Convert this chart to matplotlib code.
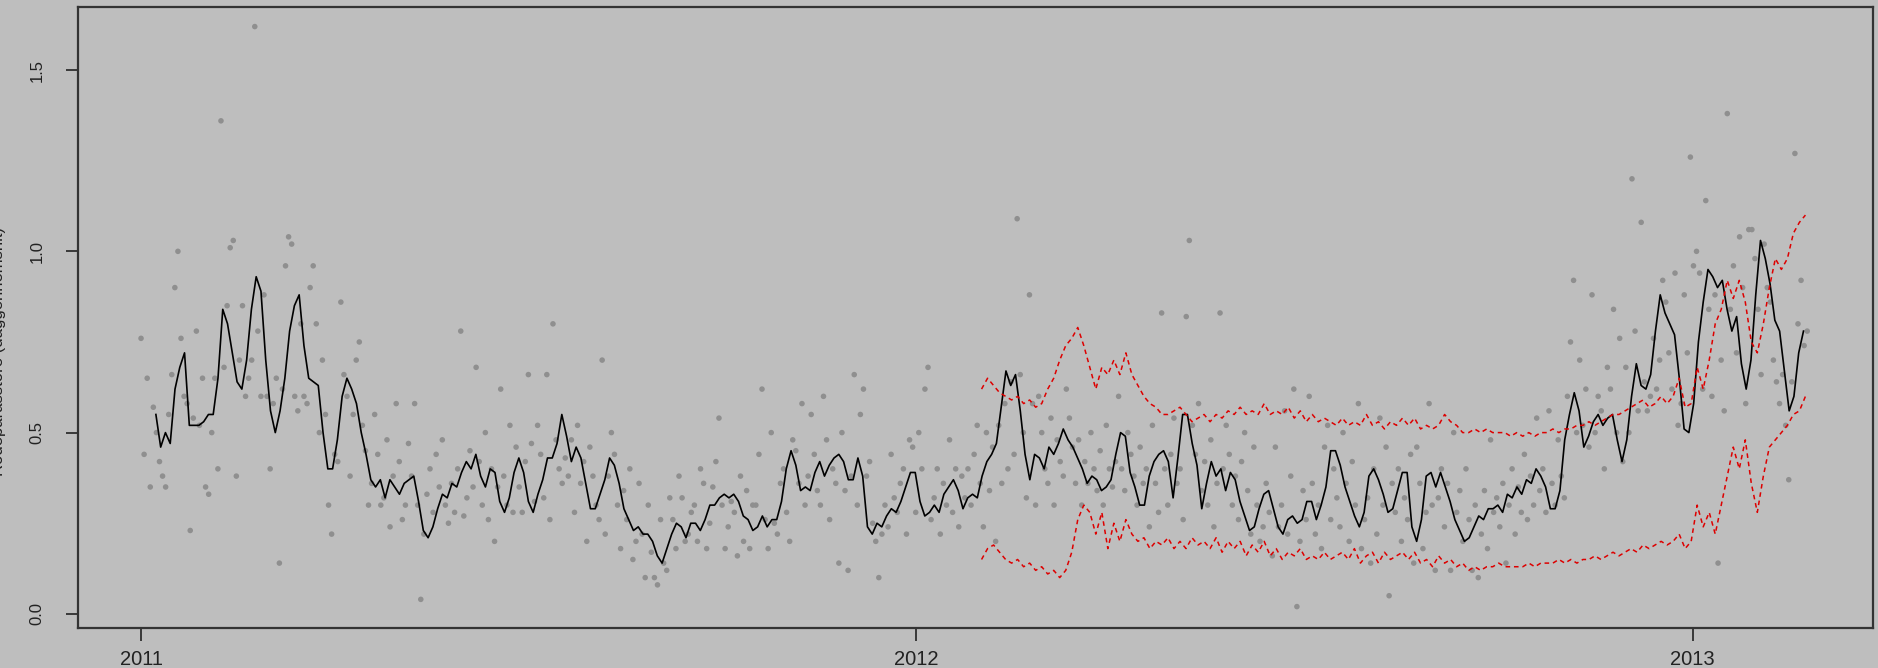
import matplotlib
matplotlib.use("Agg")
import matplotlib.pyplot as plt
import numpy as np
import pandas as pd

plt.rcParams['font.family'] = ['Liberation Sans', 'DejaVu Sans']

# rolling daily mean (black line), sampled every 54 hours from 2011-01-08
mean_start = '2011-01-08'
mean_vals = [
    0.55, 0.46, 0.50, 0.47, 0.62, 0.68, 0.72, 0.52, 0.52, 0.52,
    0.53, 0.55, 0.55, 0.65, 0.84, 0.80, 0.72, 0.64, 0.62, 0.70,
    0.84, 0.93, 0.89, 0.70, 0.56, 0.50, 0.56, 0.65, 0.78, 0.85,
    0.88, 0.74, 0.65, 0.64, 0.63, 0.50, 0.40, 0.40, 0.48, 0.60,
    0.65, 0.62, 0.58, 0.50, 0.44, 0.37, 0.35, 0.37, 0.32, 0.37,
    0.35, 0.33, 0.36, 0.37, 0.38, 0.31, 0.23, 0.21, 0.24, 0.29,
    0.33, 0.32, 0.36, 0.35, 0.39, 0.42, 0.40, 0.44, 0.38, 0.35,
    0.40, 0.39, 0.31, 0.28, 0.32, 0.39, 0.43, 0.39, 0.31, 0.28,
    0.33, 0.37, 0.43, 0.43, 0.47, 0.55, 0.49, 0.42, 0.46, 0.43,
    0.36, 0.29, 0.29, 0.33, 0.37, 0.43, 0.41, 0.36, 0.29, 0.26,
    0.23, 0.24, 0.22, 0.22, 0.20, 0.16, 0.14, 0.18, 0.22, 0.25,
    0.24, 0.21, 0.25, 0.25, 0.23, 0.26, 0.30, 0.30, 0.32, 0.33,
    0.32, 0.33, 0.31, 0.27, 0.26, 0.23, 0.24, 0.27, 0.24, 0.26,
    0.26, 0.31, 0.40, 0.45, 0.41, 0.34, 0.35, 0.34, 0.39, 0.42,
    0.38, 0.41, 0.43, 0.44, 0.42, 0.37, 0.37, 0.43, 0.38, 0.24,
    0.22, 0.25, 0.24, 0.27, 0.29, 0.28, 0.31, 0.35, 0.39, 0.39,
    0.31, 0.27, 0.28, 0.30, 0.28, 0.33, 0.35, 0.37, 0.34, 0.29,
    0.32, 0.33, 0.32, 0.38, 0.42, 0.44, 0.47, 0.57, 0.67, 0.63,
    0.66, 0.56, 0.44, 0.37, 0.44, 0.43, 0.40, 0.46, 0.44, 0.47,
    0.51, 0.48, 0.46, 0.43, 0.40, 0.36, 0.38, 0.37, 0.34, 0.35,
    0.37, 0.44, 0.50, 0.49, 0.39, 0.35, 0.30, 0.30, 0.38, 0.42,
    0.44, 0.45, 0.42, 0.32, 0.43, 0.55, 0.55, 0.47, 0.41, 0.29,
    0.36, 0.42, 0.38, 0.40, 0.34, 0.39, 0.37, 0.31, 0.27, 0.23,
    0.24, 0.29, 0.33, 0.34, 0.29, 0.24, 0.22, 0.26, 0.27, 0.25,
    0.26, 0.31, 0.31, 0.26, 0.30, 0.35, 0.45, 0.45, 0.41, 0.35,
    0.31, 0.27, 0.24, 0.28, 0.38, 0.40, 0.37, 0.33, 0.28, 0.29,
    0.34, 0.39, 0.39, 0.24, 0.20, 0.26, 0.38, 0.39, 0.35, 0.39,
    0.35, 0.31, 0.26, 0.23, 0.20, 0.21, 0.24, 0.27, 0.26, 0.29,
    0.29, 0.30, 0.28, 0.33, 0.32, 0.35, 0.33, 0.37, 0.36, 0.40,
    0.38, 0.35, 0.29, 0.29, 0.34, 0.48, 0.55, 0.61, 0.56, 0.46,
    0.49, 0.53, 0.55, 0.52, 0.54, 0.55, 0.48, 0.42, 0.48, 0.60,
    0.69, 0.63, 0.62, 0.66, 0.78, 0.88, 0.83, 0.80, 0.77, 0.65,
    0.51, 0.50, 0.58, 0.75, 0.86, 0.95, 0.93, 0.90, 0.92, 0.84,
    0.78, 0.82, 0.69, 0.62, 0.70, 0.88, 1.03, 0.98, 0.91, 0.81,
    0.78, 0.67, 0.56, 0.60, 0.72, 0.78,
]

# prediction band (red dashed), sampled every 68 hours from 2012-02-01
band_start = '2012-02-01'
upper_vals = [
    0.62, 0.65, 0.63, 0.61, 0.60, 0.59, 0.60, 0.58, 0.59, 0.57,
    0.58, 0.62, 0.65, 0.70, 0.74, 0.76, 0.79, 0.74, 0.68, 0.62,
    0.68, 0.66, 0.70, 0.66, 0.72, 0.66, 0.63, 0.60, 0.58, 0.57,
    0.55, 0.55, 0.56, 0.57, 0.55, 0.53, 0.54, 0.55, 0.53, 0.55,
    0.54, 0.56, 0.55, 0.57, 0.55, 0.56, 0.55, 0.58, 0.55, 0.56,
    0.55, 0.57, 0.54, 0.56, 0.53, 0.55, 0.53, 0.54, 0.53, 0.52,
    0.54, 0.52, 0.53, 0.52, 0.55, 0.52, 0.53, 0.51, 0.53, 0.52,
    0.54, 0.52, 0.54, 0.51, 0.52, 0.51, 0.52, 0.55, 0.53, 0.52,
    0.50, 0.50, 0.51, 0.50, 0.51, 0.50, 0.50, 0.50, 0.49, 0.50,
    0.49, 0.50, 0.49, 0.50, 0.50, 0.51, 0.50, 0.51, 0.51, 0.52,
    0.52, 0.53, 0.52, 0.53, 0.54, 0.55, 0.55, 0.56, 0.57, 0.58,
    0.59, 0.57, 0.58, 0.60, 0.58, 0.60, 0.65, 0.57, 0.58, 0.68,
    0.62, 0.70, 0.80, 0.84, 0.92, 0.87, 0.92, 0.86, 0.75, 0.72,
    0.80, 0.90, 0.98, 0.95, 0.98, 1.05, 1.08, 1.10,
]
lower_vals = [
    0.15, 0.18, 0.19, 0.17, 0.15, 0.14, 0.15, 0.13, 0.14, 0.12,
    0.13, 0.11, 0.12, 0.10, 0.12, 0.17, 0.26, 0.30, 0.28, 0.22,
    0.28, 0.18, 0.25, 0.20, 0.26, 0.22, 0.20, 0.21, 0.18, 0.20,
    0.19, 0.21, 0.18, 0.20, 0.18, 0.21, 0.19, 0.20, 0.18, 0.21,
    0.17, 0.20, 0.18, 0.20, 0.16, 0.19, 0.17, 0.20, 0.16, 0.18,
    0.15, 0.17, 0.16, 0.18, 0.15, 0.16, 0.15, 0.17, 0.15, 0.16,
    0.17, 0.15, 0.18, 0.14, 0.16, 0.17, 0.14, 0.17, 0.15, 0.16,
    0.17, 0.15, 0.17, 0.14, 0.15, 0.13, 0.16, 0.14, 0.15, 0.13,
    0.14, 0.12, 0.13, 0.12, 0.13, 0.13, 0.14, 0.13, 0.13, 0.13,
    0.13, 0.14, 0.13, 0.14, 0.14, 0.14, 0.15, 0.14, 0.15, 0.14,
    0.15, 0.15, 0.16, 0.15, 0.16, 0.17, 0.16, 0.17, 0.18, 0.17,
    0.19, 0.18, 0.19, 0.20, 0.19, 0.20, 0.22, 0.18, 0.20, 0.30,
    0.24, 0.28, 0.22, 0.30, 0.38, 0.46, 0.40, 0.48, 0.36, 0.28,
    0.38, 0.46, 0.48, 0.50, 0.52, 0.55, 0.56, 0.60,
]

# daily observations (grey points), 2011-01-01 .. 2013-02-24
obs_first = '2011-01-01'
obs_last = '2013-02-24'
obs_vals = [
    0.76, 0.44, 0.65, 0.35, 0.57, 0.50, 0.42, 0.38, 0.35, 0.55, 0.66, 0.90, 1.00, 0.76, 0.60, 0.58,
    0.23, 0.54, 0.78, 0.52, 0.65, 0.35, 0.33, 0.50, 0.65, 0.40, 1.36, 0.68, 0.85, 1.01, 1.03, 0.38,
    0.70, 0.85, 0.60, 0.65, 0.70, 1.62, 0.78, 0.60, 0.88, 0.60, 0.40, 0.58, 0.65, 0.14, 0.62, 0.96,
    1.04, 1.02, 0.60, 0.56, 0.80, 0.60, 0.58, 0.90, 0.96, 0.80, 0.50, 0.70, 0.55, 0.30, 0.22, 0.44,
    0.42, 0.86, 0.66, 0.60, 0.38, 0.55, 0.70, 0.75, 0.52, 0.45, 0.30, 0.36, 0.55, 0.44, 0.30, 0.32,
    0.48, 0.24, 0.38, 0.58, 0.42, 0.26, 0.30, 0.47, 0.38, 0.58, 0.30, 0.04, 0.22, 0.33, 0.40, 0.28,
    0.44, 0.35, 0.48, 0.30, 0.25, 0.36, 0.28, 0.40, 0.78, 0.27, 0.32, 0.45, 0.35, 0.68, 0.42, 0.30,
    0.50, 0.26, 0.40, 0.20, 0.35, 0.62, 0.38, 0.30, 0.52, 0.28, 0.46, 0.35, 0.28, 0.42, 0.66, 0.47,
    0.31, 0.52, 0.44, 0.32, 0.66, 0.26, 0.80, 0.48, 0.40, 0.36, 0.43, 0.38, 0.48, 0.28, 0.52, 0.36,
    0.42, 0.20, 0.46, 0.38, 0.30, 0.26, 0.70, 0.22, 0.38, 0.50, 0.44, 0.30, 0.18, 0.34, 0.26, 0.40,
    0.15, 0.20, 0.36, 0.22, 0.10, 0.30, 0.17, 0.10, 0.08, 0.26, 0.14, 0.12, 0.32, 0.26, 0.18, 0.38,
    0.32, 0.20, 0.22, 0.28, 0.30, 0.20, 0.40, 0.36, 0.18, 0.25, 0.35, 0.42, 0.54, 0.30, 0.18, 0.24,
    0.31, 0.28, 0.16, 0.38, 0.20, 0.34, 0.18, 0.30, 0.30, 0.44, 0.62, 0.26, 0.18, 0.50, 0.25, 0.22,
    0.36, 0.40, 0.28, 0.20, 0.48, 0.45, 0.36, 0.58, 0.30, 0.38, 0.55, 0.44, 0.34, 0.30, 0.60, 0.48,
    0.26, 0.40, 0.36, 0.14, 0.50, 0.34, 0.12, 0.38, 0.66, 0.30, 0.55, 0.62, 0.38, 0.42, 0.25, 0.20,
    0.10, 0.22, 0.30, 0.24, 0.44, 0.32, 0.28, 0.36, 0.40, 0.22, 0.48, 0.46, 0.28, 0.50, 0.40, 0.62,
    0.68, 0.26, 0.32, 0.40, 0.22, 0.36, 0.30, 0.48, 0.28, 0.40, 0.24, 0.38, 0.32, 0.40, 0.30, 0.44,
    0.52, 0.36, 0.24, 0.50, 0.34, 0.46, 0.20, 0.52, 0.36, 0.58, 0.40, 0.64, 0.44, 1.09, 0.66, 0.50,
    0.32, 0.88, 0.58, 0.30, 0.60, 0.50, 0.40, 0.36, 0.54, 0.30, 0.48, 0.42, 0.38, 0.62, 0.54, 0.46,
    0.36, 0.48, 0.30, 0.42, 0.36, 0.50, 0.40, 0.34, 0.45, 0.30, 0.52, 0.40, 0.35, 0.42, 0.60, 0.40,
    0.34, 0.50, 0.44, 0.38, 0.30, 0.46, 0.36, 0.40, 0.24, 0.52, 0.36, 0.28, 0.83, 0.40, 0.30, 0.44,
    0.54, 0.36, 0.40, 0.26, 0.82, 1.03, 0.52, 0.44, 0.58, 0.34, 0.42, 0.30, 0.48, 0.24, 0.36, 0.83,
    0.40, 0.52, 0.44, 0.30, 0.38, 0.26, 0.42, 0.50, 0.34, 0.22, 0.46, 0.30, 0.20, 0.24, 0.36, 0.28,
    0.16, 0.46, 0.24, 0.30, 0.56, 0.22, 0.38, 0.62, 0.02, 0.20, 0.34, 0.26, 0.60, 0.36, 0.22, 0.30,
    0.18, 0.46, 0.52, 0.26, 0.40, 0.32, 0.24, 0.50, 0.36, 0.20, 0.42, 0.30, 0.58, 0.18, 0.26, 0.32,
    0.14, 0.40, 0.22, 0.54, 0.30, 0.46, 0.05, 0.36, 0.28, 0.40, 0.20, 0.32, 0.26, 0.44, 0.14, 0.46,
    0.36, 0.18, 0.28, 0.58, 0.30, 0.12, 0.32, 0.40, 0.24, 0.36, 0.12, 0.50, 0.28, 0.34, 0.20, 0.40,
    0.26, 0.12, 0.30, 0.10, 0.22, 0.34, 0.18, 0.48, 0.28, 0.32, 0.24, 0.36, 0.14, 0.30, 0.40, 0.22,
    0.35, 0.28, 0.44, 0.26, 0.38, 0.30, 0.54, 0.34, 0.40, 0.28, 0.56, 0.36, 0.30, 0.48, 0.38, 0.32,
    0.60, 0.75, 0.92, 0.50, 0.70, 0.52, 0.62, 0.46, 0.88, 0.50, 0.60, 0.56, 0.40, 0.68, 0.62, 0.84,
    0.50, 0.76, 0.42, 0.68, 0.50, 1.20, 0.78, 0.56, 1.08, 0.64, 0.56, 0.60, 0.76, 0.62, 0.70, 0.92,
    0.86, 0.72, 0.62, 0.94, 0.52, 0.58, 0.88, 0.72, 1.26, 0.96, 1.00, 0.94, 0.62, 1.14, 0.84, 0.60,
    0.88, 0.14, 0.70, 0.56, 1.38, 0.84, 0.96, 0.72, 1.04, 0.90, 0.58, 1.06, 1.06, 0.98, 0.84, 0.66,
    1.02, 0.90, 0.86, 0.70, 0.64, 0.58, 0.66, 0.52, 0.37, 0.64, 1.27, 0.80, 0.92, 0.74, 0.78,
]

year_ticks = ['2011-01-01', '2012-01-01', '2013-01-01']
year_labels = ['2011', '2012', '2013']
y_ticks = [0.0, 0.5, 1.0, 1.5]
y_labels = ['0.0', '0.5', '1.0', '1.5']
y_title = 'Rodeparasstore (daggennemsnit)'

mean_t = pd.date_range(mean_start, periods=len(mean_vals), freq='54h')
band_t = pd.date_range(band_start, periods=len(upper_vals), freq='68h')
obs_t = pd.date_range(obs_first, obs_last, periods=len(obs_vals))

bg = '#bebebe'
fig = plt.figure(figsize=(18.78, 6.68), dpi=100, facecolor=bg)
ax = fig.add_axes([78/1878, 1 - 628/668, (1873 - 78)/1878, (628 - 7)/668])
ax.set_facecolor(bg)

ax.scatter(obs_t, obs_vals, s=16, color='#8f8f8f', edgecolors='none', zorder=2)
ax.plot(mean_t, mean_vals, color='black', linewidth=1.2, zorder=3)
ax.plot(band_t, upper_vals, color='#dd0000', linewidth=1.1, linestyle=(0, (3, 2.5)), zorder=4)
ax.plot(band_t, lower_vals, color='#dd0000', linewidth=1.1, linestyle=(0, (3, 2.5)), zorder=4)

x0 = pd.Timestamp('2011-01-01')
ax.set_xlim(x0 - pd.Timedelta(days=29.7), x0 + pd.Timedelta(days=816))
ax.set_ylim(-0.039, 1.674)

ax.set_xticks(pd.to_datetime(year_ticks))
ax.set_xticklabels(year_labels, fontsize=14.5, color='#222222')
ax.set_yticks(y_ticks)
ax.set_yticklabels(y_labels, fontsize=12, rotation=90, va='center', color='#222222')
ax.tick_params(axis='x', length=9, width=1.2, color='#222222', pad=7)
ax.tick_params(axis='y', length=9, width=1.2, color='#222222', pad=15)

for s in ax.spines.values():
    s.set_color('#333333')
    s.set_linewidth(1.6)

fig.text(6/1878, 317/668, y_title, rotation=90, ha='right', va='center',
         fontsize=12, color='#222222')

fig.savefig('out.png', dpi=100, facecolor=bg)
